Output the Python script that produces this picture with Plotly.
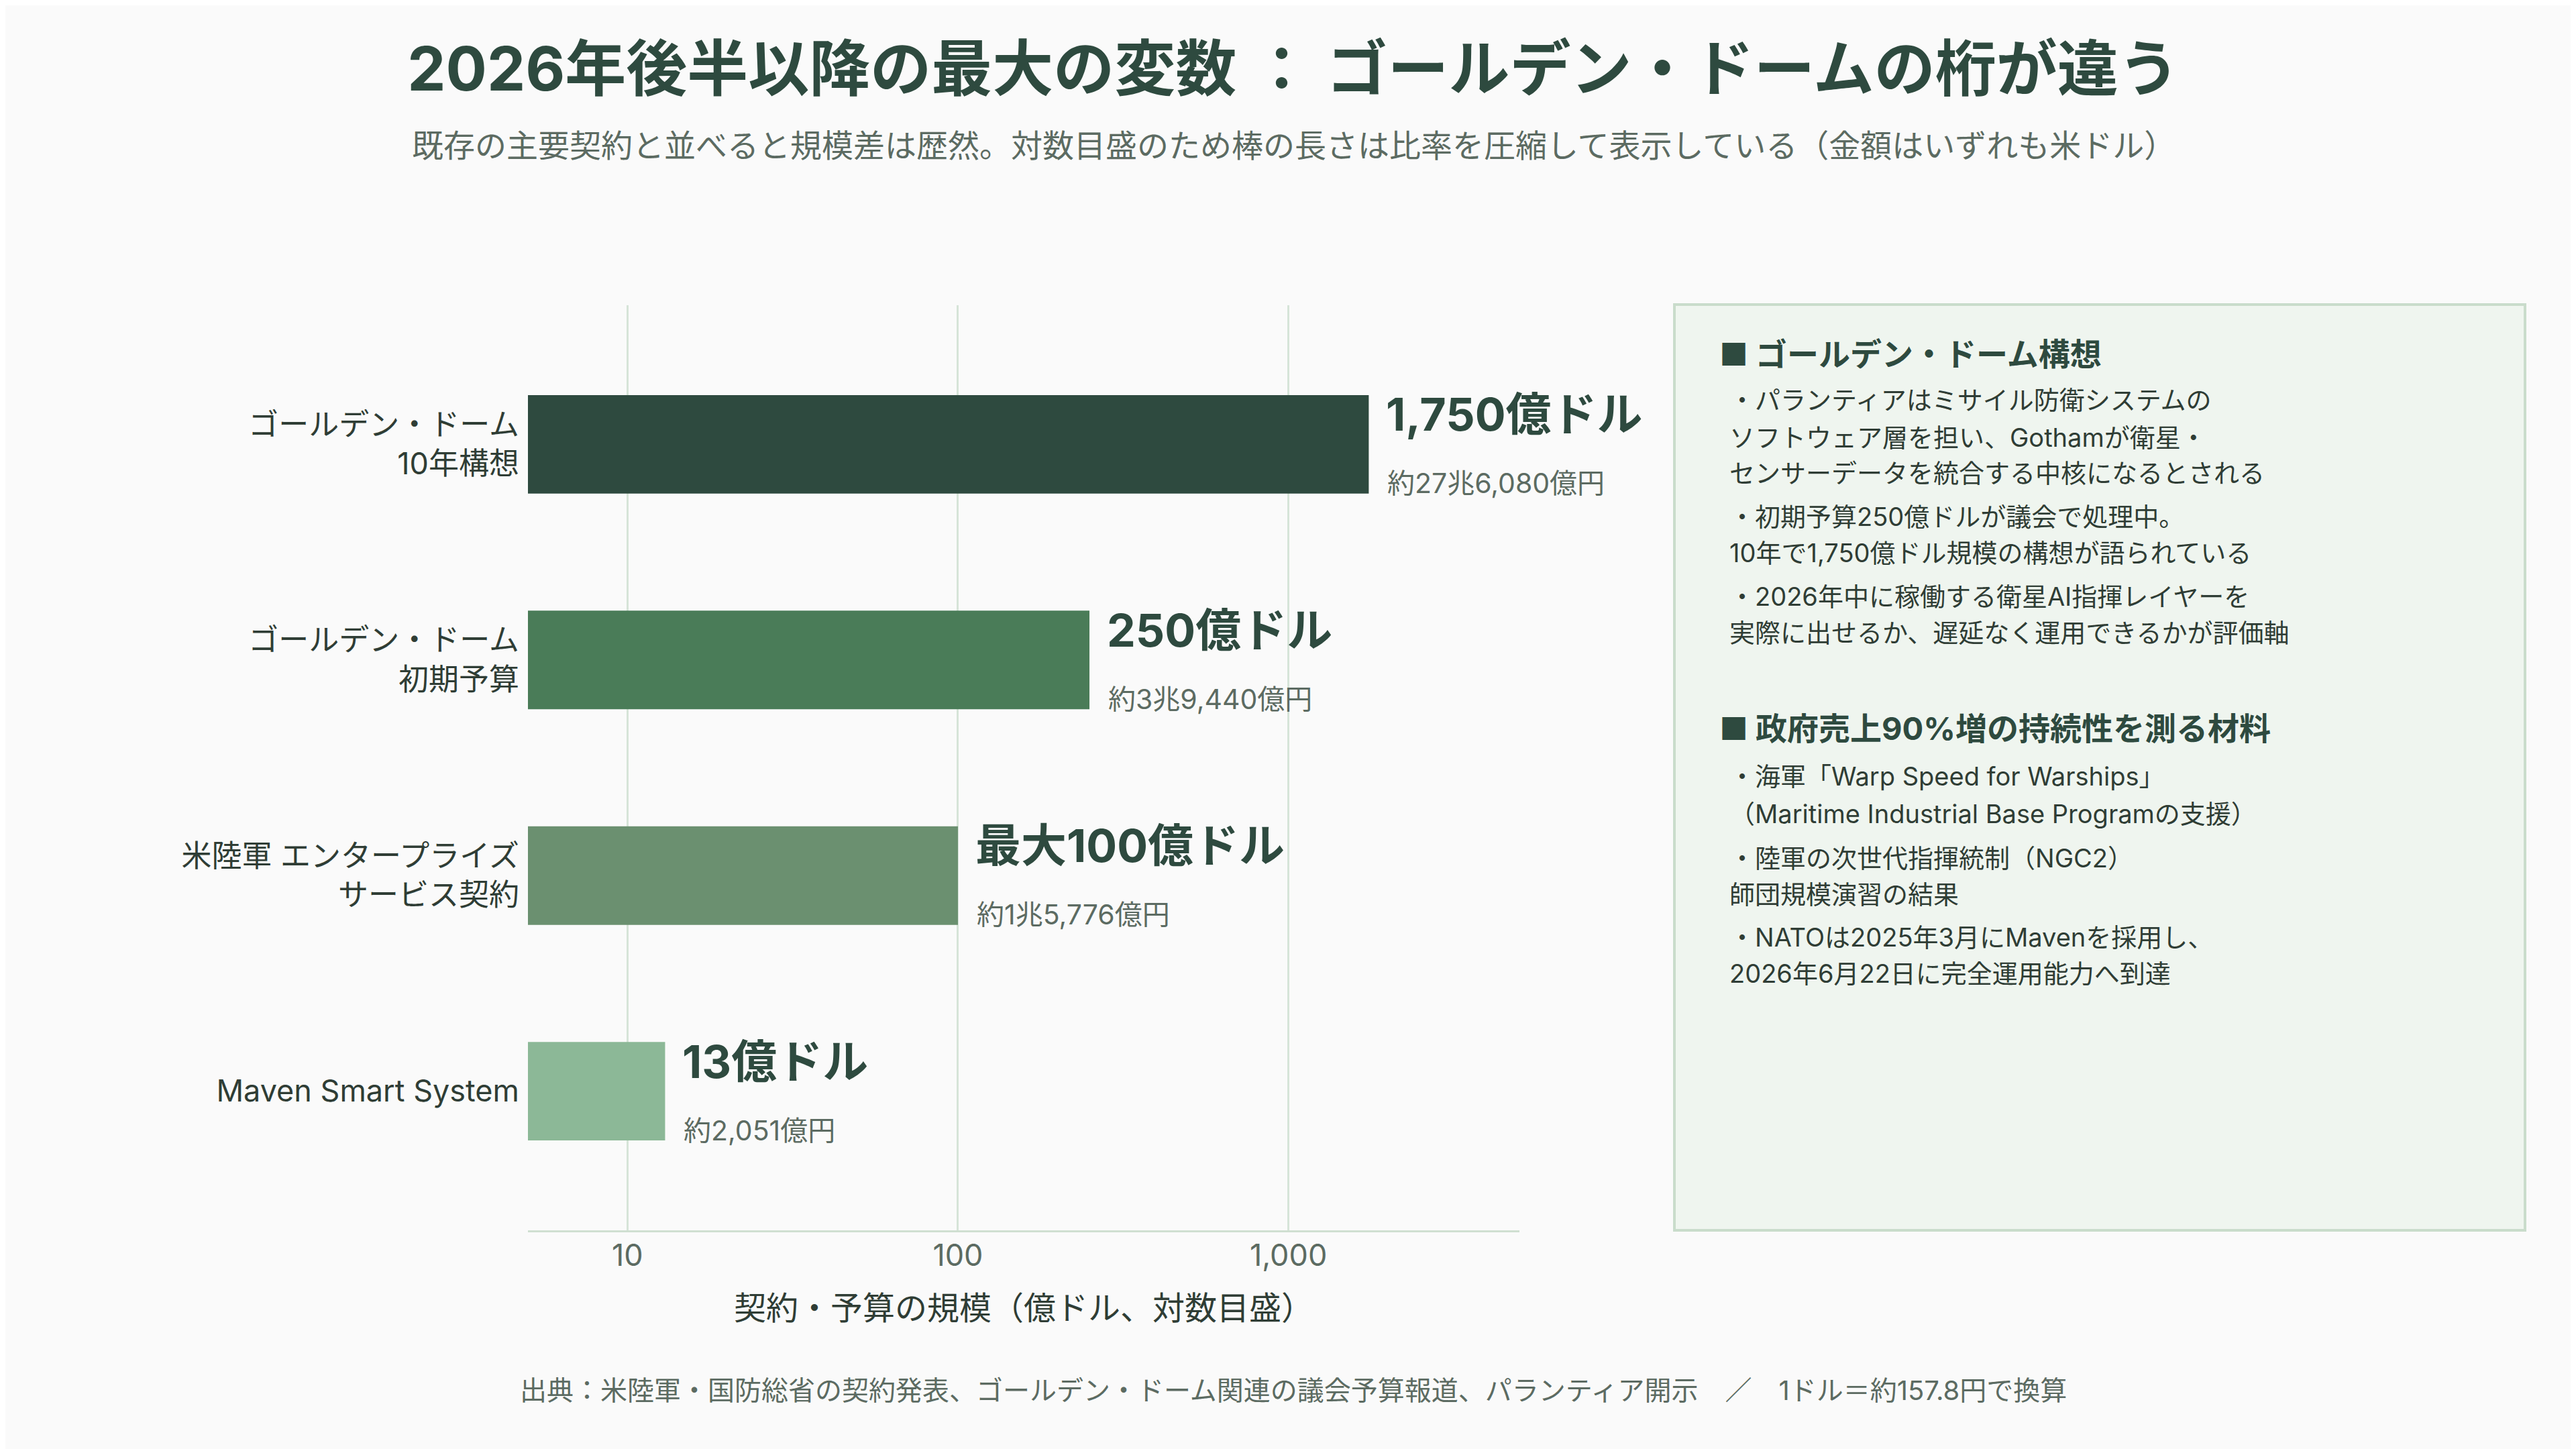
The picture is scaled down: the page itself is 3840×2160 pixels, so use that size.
import numpy as np
import plotly.graph_objects as go

# data
categories = ["ゴールデン・ドーム<br>10年構想", "ゴールデン・ドーム<br>初期予算",
              "米陸軍 エンタープライズ<br>サービス契約", "Maven Smart System"]
values = [1750, 250, 100, 13]  # 億ドル
value_labels = ["1,750億ドル", "250億ドル", "最大100億ドル", "13億ドル"]
yen_labels = ["約27兆6,080億円", "約3兆9,440億円", "約1兆5,776億円", "約2,051億円"]
bar_colors = ["#2e4a3f", "#4a7c58", "#6b9070", "#8cb897"]
tick_vals = [10, 100, 1000]
tick_text = ["10", "100", "1,000"]

title = "2026年後半以降の最大の変数 ： ゴールデン・ドームの桁が違う"
subtitle = "既存の主要契約と並べると規模差は歴然。対数目盛のため棒の長さは比率を圧縮して表示している（金額はいずれも米ドル）"
x_title = "契約・予算の規模（億ドル、対数目盛）"
footer = "出典：米陸軍・国防総省の契約発表、ゴールデン・ドーム関連の議会予算報道、パランティア開示　／　1ドル＝約157.8円で換算"

panel_heads = ["■ ゴールデン・ドーム構想", "■ 政府売上90%増の持続性を測る材料"]
panel_lines = [
    ["・パランティアはミサイル防衛システムの", "ソフトウェア層を担い、Gothamが衛星・", "センサーデータを統合する中核になるとされる",
     "・初期予算250億ドルが議会で処理中。", "10年で1,750億ドル規模の構想が語られている",
     "・2026年中に稼働する衛星AI指揮レイヤーを", "実際に出せるか、遅延なく運用できるかが評価軸"],
    ["・海軍「Warp Speed for Warships」", "（Maritime Industrial Base Programの支援）",
     "・陸軍の次世代指揮統制（NGC2）", "師団規模演習の結果",
     "・NATOは2025年3月にMavenを採用し、", "2026年6月22日に完全運用能力へ到達"],
]

W, H = 3840, 2160
OFF = 8  # page offset of the plot div
FONT = "Inter, Noto Sans CJK JP"
DARK = "#2e4a3f"
TEXT = "#2f3d35"
GRAY = "#5c6b62"


def px(x):
    return (x - OFF) / W


def py(y):
    return 1 - (y - OFF) / H


fig = go.Figure()
fig.add_trace(go.Bar(
    x=values, y=categories, orientation="h", width=0.457,
    marker=dict(color=bar_colors, line_width=0),
    hoverinfo="skip", showlegend=False,
))

# value labels next to bars
for cat, v, lab, yen in zip(categories, values, value_labels, yen_labels):
    fig.add_annotation(x=np.log10(v), y=cat, xref="x", yref="y", text="<b>" + lab + "</b>",
                       showarrow=False, xanchor="left", yanchor="middle", xshift=24, yshift=45,
                       font=dict(family=FONT, size=68, color=DARK))
    fig.add_annotation(x=np.log10(v), y=cat, xref="x", yref="y", text=yen,
                       showarrow=False, xanchor="left", yanchor="middle", xshift=26, yshift=-58,
                       font=dict(family=FONT, size=41, color=GRAY))

# side panel
fig.add_shape(type="rect", xref="paper", yref="paper",
              x0=px(2496), x1=px(3764), y0=py(1834), y1=py(454),
              fillcolor="#eff5ef", line=dict(color="#c9dccb", width=4), layer="below")

head_y = [528, 1085]
line_y = [[596, 652, 705, 770, 824, 889, 943],
          [1157, 1213, 1279, 1333, 1397, 1451]]
for head, hy, lines, ly in zip(panel_heads, head_y, panel_lines, line_y):
    fig.add_annotation(x=px(2561), y=py(hy), xref="paper", yref="paper", text="<b>" + head + "</b>",
                       showarrow=False, xanchor="left", yanchor="middle",
                       font=dict(family=FONT, size=47, color=DARK))
    for t, yy in zip(lines, ly):
        fig.add_annotation(x=px(2576), y=py(yy), xref="paper", yref="paper", text=t,
                           showarrow=False, xanchor="left", yanchor="middle",
                           font=dict(family=FONT, size=38, color=TEXT))

fig.add_annotation(x=px(1928), y=py(216), xref="paper", yref="paper", text=subtitle,
                   showarrow=False, xanchor="center", yanchor="middle",
                   font=dict(family=FONT, size=47, color=GRAY))
fig.add_annotation(x=px(1928), y=py(2072), xref="paper", yref="paper", text=footer,
                   showarrow=False, xanchor="center", yanchor="middle",
                   font=dict(family=FONT, size=40, color=GRAY))

fig.update_layout(
    width=W, height=H, template="none",
    paper_bgcolor="#fafafa", plot_bgcolor="#fafafa",
    margin=dict(l=0, r=0, t=0, b=0),
    font=dict(family=FONT, color=TEXT),
    title=dict(text="<b>" + title + "</b>", x=px(1928), xanchor="center", y=py(103), yanchor="middle",
               font=dict(family=FONT, size=91, color=DARK, weight=900)),
    xaxis=dict(type="log", domain=[px(787), px(2265)], range=[np.log10(5), np.log10(5000)],
               tickvals=tick_vals, ticktext=tick_text, ticks="", ticklen=0, showgrid=True,
               gridcolor="#d6e4d8", gridwidth=3, showline=True, linecolor="#cfdfd1", linewidth=3,
               zeroline=False, automargin=False, ticklabelstandoff=-4,
               tickfont=dict(family=FONT, size=45, color=GRAY),
               title=dict(text=x_title, standoff=37, font=dict(family=FONT, size=48, color=TEXT))),
    yaxis=dict(type="category", domain=[py(1834), py(455)], categoryorder="array",
               categoryarray=categories, range=[3.645, -0.645], ticks="", ticklen=0, showgrid=False,
               showline=False, zeroline=False, automargin=False, ticklabelstandoff=12,
               tickfont=dict(family=FONT, size=45, color=TEXT)),
)

fig.write_html("out.html")
